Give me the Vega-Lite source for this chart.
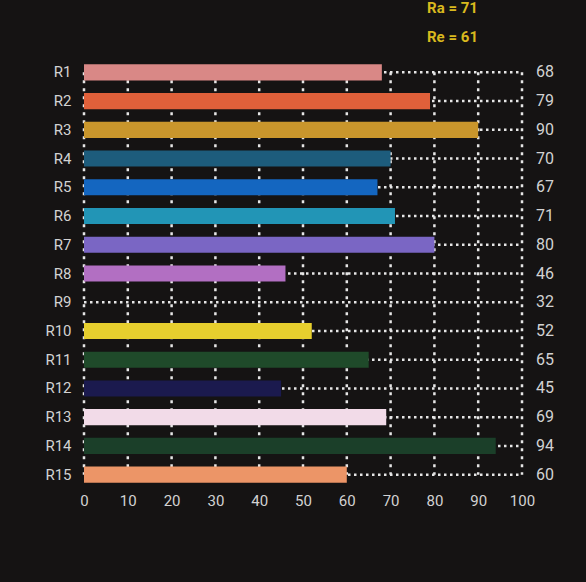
{
  "$schema": "https://vega.github.io/schema/vega-lite/v6.json",
  "width": 438,
  "height": 431,
  "autosize": {"type": "none"},
  "padding": {"left": 84, "top": 58, "right": 64, "bottom": 93},
  "background": "#151313",
  "title": {
    "text": ["Ra = 71", "Re = 61"],
    "anchor": "end",
    "color": "#d9b91e",
    "fontSize": 15,
    "fontWeight": "bold",
    "lineHeight": 29,
    "dx": -76,
    "offset": 13,
    "font": "Roboto"
  },
  "config": {
    "view": {"stroke": null},
    "font": "Roboto",
    "axis": {
      "domain": false,
      "ticks": false,
      "grid": false,
      "labelColor": "#d2d2d2",
      "labelFontSize": 15,
      "labelFont": "Roboto"
    },
    "axisX": {"labelPadding": 4, "labelFlush": false},
    "axisY": {"labelPadding": 13}
  },
  "data": {
    "values": [
      {"row": "R1", "value": 68},
      {"row": "R2", "value": 79},
      {"row": "R3", "value": 90},
      {"row": "R4", "value": 70},
      {"row": "R5", "value": 67},
      {"row": "R6", "value": 71},
      {"row": "R7", "value": 80},
      {"row": "R8", "value": 46},
      {"row": "R9", "value": 32},
      {"row": "R10", "value": 52},
      {"row": "R11", "value": 65},
      {"row": "R12", "value": 45},
      {"row": "R13", "value": 69},
      {"row": "R14", "value": 94},
      {"row": "R15", "value": 60}
    ]
  },
  "layer": [
    {
      "data": {"values": [{"g": 0}, {"g": 10}, {"g": 20}, {"g": 30}, {"g": 40}, {"g": 50}, {"g": 60}, {"g": 70}, {"g": 80}, {"g": 90}, {"g": 100}]},
      "mark": {"type": "rule", "color": "#e6e6e6", "strokeWidth": 2.5, "strokeDash": [3, 5]},
      "encoding": {
        "x": {"field": "g", "type": "quantitative", "title": null},
        "y": {"datum": "R1", "type": "nominal", "title": null},
        "y2": {"datum": "R15"}
      }
    },
    {
      "mark": {"type": "rule", "color": "#e6e6e6", "strokeWidth": 2.5, "strokeDash": [2.5, 3.5]},
      "encoding": {
        "x": {"datum": 0, "type": "quantitative", "title": null},
        "x2": {"datum": 100},
        "y": {"field": "row", "type": "nominal", "title": null, "sort": null}
      }
    },
    {
      "mark": {"type": "bar", "height": {"band": 0.56}},
      "encoding": {
        "y": {
          "field": "row",
          "type": "nominal",
          "sort": null,
          "title": null,
          "scale": {
            "domain": ["R1", "R2", "R3", "R4", "R5", "R6", "R7", "R8", "R9", "R10", "R11", "R12", "R13", "R14", "R15"],
            "paddingInner": 0,
            "paddingOuter": 0
          }
        },
        "x": {
          "field": "value",
          "type": "quantitative",
          "title": null,
          "scale": {"domain": [0, 100], "nice": false},
          "axis": {"values": [0, 10, 20, 30, 40, 50, 60, 70, 80, 90, 100]}
        },
        "color": {
          "field": "row",
          "type": "nominal",
          "legend": null,
          "scale": {
            "domain": ["R1", "R2", "R3", "R4", "R5", "R6", "R7", "R8", "R9", "R10", "R11", "R12", "R13", "R14", "R15"],
            "range": ["#d98886", "#e0603a", "#c9962c", "#1d5c7c", "#1466c0", "#2295b6", "#7a66c4", "#b26fc2", "rgba(0,0,0,0)", "#e6cf2e", "#1f4a2a", "#1b1a4e", "#f2dbe8", "#1b3f29", "#ec9567"]
          }
        }
      }
    },
    {
      "mark": {"type": "text", "align": "left", "dx": 14, "fontSize": 16, "color": "#d2d2d2"},
      "encoding": {
        "x": {"datum": 100, "type": "quantitative", "title": null},
        "y": {"field": "row", "type": "nominal", "title": null, "sort": null},
        "text": {"field": "value", "type": "quantitative"}
      }
    }
  ]
}
